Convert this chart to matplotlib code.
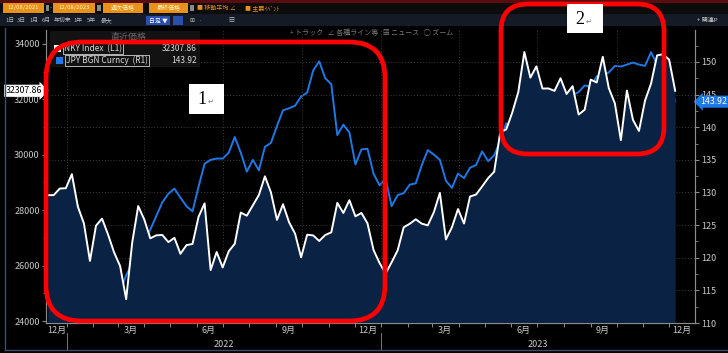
import numpy as np
import pandas as pd
import matplotlib
matplotlib.use('Agg')
import matplotlib.pyplot as plt
import matplotlib.dates as mdates
from matplotlib.patches import FancyBboxPatch, Rectangle
from matplotlib.ticker import MultipleLocator

plt.rcParams['font.family'] = ['Noto Sans CJK JP', 'DejaVu Sans']

# weekly closes (Fri), 12/2021 - 12/2023
dates = pd.date_range('2021-12-10', '2023-12-08', freq='W-FRI')

nky = [28540, 28545, 28782, 28792,
       29300, 28124, 27522, 26170,
       27440, 27696, 27122, 26476,
       25985, 24790, 26827, 28149,
       27666, 26985, 27093, 27105, 26848,
       27003, 26427, 26739, 26782,
       27761, 28246, 25840, 26491,
       25935, 26517, 26788, 27915, 27801,
       28176, 28547, 29222, 28641,
       27650, 28214, 27567, 27153, 26300,
       27116, 27090, 26890, 27105,
       27199, 28263, 27899, 28360,
       27777, 27901, 27527, 26568, 26095,
       25716, 26119, 26553, 27383,
       27509, 27671, 27513, 27453,
       27927, 28623, 26945, 27385, 28041,
       27518, 28493, 28564, 28856,
       29157, 29388, 30808, 30916,
       31524, 32265, 33706, 32781, 33189,
       32388, 32391, 32304, 32759,
       32193, 32473, 31450, 31624,
       32710, 32606, 33533, 32402, 31857,
       30526, 32315, 31259, 30858,
       31950, 32568, 33585, 33625,
       33431, 32307.86]

jpy = [113.4, 113.7, 114.4, 115.1,
       115.6, 114.2, 113.7, 115.2,
       115.2, 115.4, 115.0, 115.6,
       114.8, 117.3, 119.2, 122.0,
       122.5, 124.3, 126.4, 128.5, 129.8,
       130.6, 129.2, 127.9, 127.1,
       130.9, 134.4, 135.0, 135.2,
       135.2, 136.1, 138.5, 136.1, 133.2,
       135.0, 133.4, 137.0, 137.6,
       140.2, 142.6, 142.9, 143.3, 144.7,
       145.3, 148.7, 150.1, 147.5,
       146.6, 138.8, 140.4, 139.2,
       134.3, 136.6, 136.7, 132.9, 131.1,
       132.1, 127.9, 129.6, 129.9,
       131.2, 131.4, 134.2, 136.5,
       135.8, 135.0, 131.8, 130.7, 132.9,
       132.2, 133.8, 134.2, 136.3,
       134.8, 135.7, 137.9, 140.6,
       139.9, 139.4, 141.8, 143.7, 144.3,
       142.1, 138.8, 141.8, 141.2,
       141.8, 144.9, 145.4, 146.4,
       146.2, 147.8, 147.9, 148.4, 149.4,
       149.3, 149.6, 149.9, 149.6,
       149.4, 151.5, 149.6, 149.4,
       146.8, 143.92]

month_labels = ['12月', '3月', '6月', '9月', '12月', '3月', '6月', '9月', '12月']
label_months = ['2021-12-20', '2022-03-16', '2022-06-15', '2022-09-15', '2022-12-16',
                '2023-03-16', '2023-06-15', '2023-09-15', '2023-12-16']
years = ['2022', '2023']

W, H = 728, 353
fig = plt.figure(figsize=(W / 100, H / 100), dpi=100)
fig.patch.set_facecolor('#000000')

def fx(px):
    return px / W

def fy(py):
    return 1 - py / H

ax = fig.add_axes([fx(46), fy(323), fx(695) - fx(46), fy(30) - fy(323)])
ax2 = ax.twinx()

x0, x1 = pd.Timestamp('2021-12-08'), pd.Timestamp('2023-12-31')
ax.set_xlim(x0, x1)
ax.set_ylim(23930, 34500)
ax2.set_ylim(110, 154.9)

# grid
for v in range(115, 155, 5):
    ax2.axhline(v, color='#3c3c3c', lw=0.7, ls=(0, (1, 2)), zorder=0)
for d in pd.date_range('2022-01-01', '2023-12-01', freq='QS'):
    ax.axvline(d, color='#3c3c3c', lw=0.7, ls=(0, (1, 2)), zorder=0)

ax.fill_between(dates, 23930, nky, color='#0a2244', lw=0, zorder=1)
ax.plot(dates, nky, color='#ffffff', lw=1.4, zorder=3)
ax2.plot(dates, jpy, color='#1e78e6', lw=1.4, zorder=2)
ax.set_zorder(ax2.get_zorder() + 1)
ax.patch.set_visible(False)
ax2.patch.set_facecolor('#000000')

tick_c = '#c8c8c8'
spine_c = '#8a8a8a'
for a in (ax, ax2):
    for s in a.spines.values():
        s.set_color(spine_c)
        s.set_linewidth(0.8)
    a.spines['top'].set_visible(False)

ax.yaxis.set_major_locator(MultipleLocator(2000))
ax.yaxis.set_minor_locator(MultipleLocator(1000))
ax.yaxis.set_major_formatter(matplotlib.ticker.FuncFormatter(lambda v, p: f'{v:.0f}'))
ax2.yaxis.set_major_locator(MultipleLocator(5))
ax2.yaxis.set_minor_locator(MultipleLocator(2.5))
for a in (ax, ax2):
    a.tick_params(axis='y', which='major', colors=spine_c, labelcolor=tick_c,
                  labelsize=6.5, length=3, width=0.8, pad=1.5)
    a.tick_params(axis='y', which='minor', colors=spine_c, length=2, width=0.6)

ax.xaxis.set_major_locator(mdates.MonthLocator())
ax.xaxis.set_major_formatter(matplotlib.ticker.NullFormatter())
ax.tick_params(axis='x', which='major', colors=spine_c, length=3, width=0.7)

xt = ax.get_xaxis_transform()
for lab, d in zip(month_labels, label_months):
    ax.text(pd.Timestamp(d), -0.027, lab, transform=xt, ha='center', va='center',
            color=tick_c, fontsize=6.5)
for y in years:
    ax.text(pd.Timestamp(y + '-07-02'), -0.072, y, transform=xt, ha='center',
            va='center', color=tick_c, fontsize=6.5)
    ax.plot([pd.Timestamp(y + '-01-01')] * 2, [-0.035, -0.09], transform=xt,
            color='#777777', lw=0.7, clip_on=False)

# last value tags
ax.text(-0.006, nky[-1], f'{nky[-1]:.2f}', transform=ax.get_yaxis_transform(),
        ha='right', va='center', fontsize=6.3, color='#000000',
        bbox=dict(boxstyle='rarrow,pad=0.18', fc='#ffffff', ec='none'))
ax2.text(1.008, jpy[-1], f'{jpy[-1]:.2f}', transform=ax2.get_yaxis_transform(),
         ha='left', va='center', fontsize=6.3, color='#ffffff', zorder=20,
         bbox=dict(boxstyle='larrow,pad=0.18', fc='#1e78e6', ec='none'))

# toolbar
fig.patches.append(Rectangle((0, fy(3)), 1, 3 / H, transform=fig.transFigure,
                             fc='#5a0c10', ec='none'))
fig.patches.append(Rectangle((0, fy(14)), 1, 11 / H, transform=fig.transFigure,
                             fc='#0c0c0c', ec='none'))
fig.patches.append(Rectangle((0, fy(26)), 1, 12 / H, transform=fig.transFigure,
                             fc='#151b26', ec='none'))
fields = [(3, 44, '12/08/2021'), (53, 95, '12/08/2023'), (103, 143, '週次価格'),
          (149, 188, '最終価格')]
for a_, b_, t in fields:
    fig.patches.append(Rectangle((fx(a_), fy(13)), fx(b_ - a_), 10 / H,
                                 transform=fig.transFigure, fc='#e8921a', ec='none'))
    fig.text(fx((a_ + b_) / 2), fy(8), t, ha='center', va='center', fontsize=4.3,
             color='#fff2c0')
for xp in (45.5, 96.5, 189.5):
    fig.patches.append(Rectangle((fx(xp), fy(10.5)), fx(4), 5 / H,
                                 transform=fig.transFigure, fc='#8a8a8a', ec='none'))
fig.text(fx(49.5), fy(8), '-', ha='left', va='center', fontsize=4.3, color='#c0c0c0')
fig.text(fx(197), fy(8), '■ 移動平均 ∠', ha='left', va='center', fontsize=4.3,
         color='#e8921a')
fig.text(fx(245), fy(8), '■ 主要ｲﾍﾞﾝﾄ', ha='left', va='center', fontsize=4.3,
         color='#e8921a')

row2 = [(5, '1日'), (17, '3日'), (29, '1月'), (42, '6月'), (54, '年初来'), (73, '1年'),
        (87, '5年'), (101, '最大')]
for xp, t in row2:
    fig.text(fx(xp), fy(20), t, ha='left', va='center', fontsize=4.2, color='#b8b8b8')
fig.patches.append(Rectangle((fx(146), fy(25)), fx(24), 9 / H, transform=fig.transFigure,
                             fc='#2a4fb0', ec='none'))
fig.text(fx(158), fy(20.5), '日足 ▼', ha='center', va='center', fontsize=4.2,
         color='#ffffff')
fig.patches.append(Rectangle((fx(173), fy(25)), fx(10), 9 / H, transform=fig.transFigure,
                             fc='#2a4fb0', ec='none'))
fig.text(fx(190), fy(20), '⊞   ·', ha='left', va='center', fontsize=4.2, color='#b8b8b8')
fig.text(fx(228), fy(20), '▤', ha='left', va='center', fontsize=4.2, color='#b8b8b8')
fig.text(fx(697), fy(20), '+ 関連P', ha='left', va='center', fontsize=4.3, color='#d0d0d0')
fig.text(fx(290), fy(33), '+ トラック   ∠ 各種ライン等   ▦ ニュース   ◯ ズーム',
         ha='left', va='center', fontsize=5, color='#7a7a7a')

# legend
fig.patches.append(Rectangle((fx(50), fy(67)), fx(150), 36 / H, transform=fig.transFigure,
                             fc='#121212', ec='none'))
fig.text(fx(128), fy(37), '直近価格', ha='center', va='center', fontsize=6.5,
         color='#6a6a6a')
fig.patches.append(Rectangle((fx(54), fy(52)), fx(7), 7 / H, transform=fig.transFigure,
                             fc='#ffffff', ec='none'))
fig.patches.append(Rectangle((fx(56), fy(64)), fx(7), 7 / H, transform=fig.transFigure,
                             fc='#1e78e6', ec='none'))
fig.text(fx(64), fy(48.5), 'NKY Index  (L1)', ha='left', va='center', fontsize=6,
         color='#d8d8d8',
         bbox=dict(boxstyle='square,pad=0.1', fc='none', ec='#cfcfcf', lw=0.6))
fig.text(fx(66), fy(60.5), 'JPY BGN Curncy  (R1)', ha='left', va='center', fontsize=6,
         color='#d8d8d8',
         bbox=dict(boxstyle='square,pad=0.1', fc='none', ec='#cfcfcf', lw=0.6))
fig.text(fx(197), fy(48.5), '32307.86', ha='right', va='center', fontsize=6,
         color='#d8d8d8')
fig.text(fx(197), fy(60.5), '143.92', ha='right', va='center', fontsize=6,
         color='#d8d8d8')

# window frame
fig.lines.append(plt.Line2D([fx(5), fx(5)], [fy(28), fy(350)], transform=fig.transFigure,
                            color='#3a5068', lw=1))
fig.lines.append(plt.Line2D([fx(5), fx(728)], [fy(350), fy(350)],
                            transform=fig.transFigure, color='#3a5068', lw=1))

# highlight boxes (pixel -> inch coords)
def red_box(l, t, r, b, rad):
    p = FancyBboxPatch((l / 100, (H - b) / 100), (r - l) / 100, (b - t) / 100,
                       boxstyle=f'round,pad=0,rounding_size={rad}',
                       transform=fig.dpi_scale_trans, fc='none', ec='#ff0000', lw=3.4,
                       zorder=10)
    fig.patches.append(p)

red_box(46, 42, 385, 321, 0.36)
red_box(501, 4, 664, 154, 0.27)

def num_box(l, t, r, b, s):
    fig.patches.append(Rectangle((fx(l), fy(b)), fx(r - l), (b - t) / H,
                                 transform=fig.transFigure, fc='#ffffff', ec='none',
                                 zorder=11))
    fig.text(fx(l + 8), fy((t + b) / 2 + 1), s, ha='left', va='center', fontsize=13,
             color='#000000', family=['Liberation Serif', 'DejaVu Serif'], zorder=12)
    fig.text(fx(l + 19), fy((t + b) / 2 + 3), '↵', ha='left', va='center', fontsize=5,
             color='#777777', family=['DejaVu Sans'], zorder=12)

num_box(189, 84, 224, 114, '1')
num_box(567, 4, 603, 33, '2')

fig.savefig('out.png', dpi=100, facecolor=fig.get_facecolor())
